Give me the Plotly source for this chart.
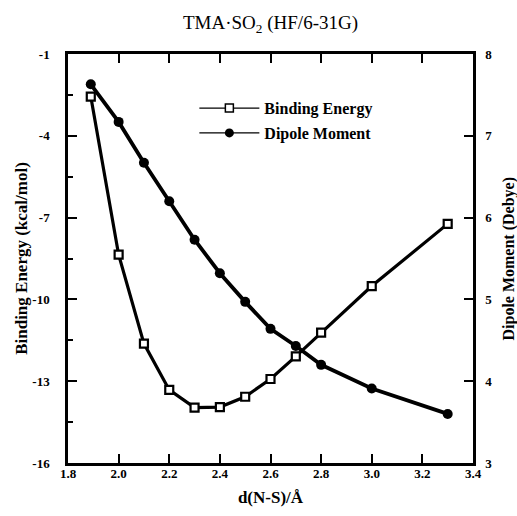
import plotly.graph_objects as go

# distance d(N-S) in Angstrom
d_ns = [1.89, 2.0, 2.1, 2.2, 2.3, 2.4, 2.5, 2.6, 2.7, 2.8, 3.0, 3.3]
# binding energy (kcal/mol)
binding_energy = [-2.56, -8.36, -11.62, -13.32, -13.97, -13.95, -13.57, -12.92, -12.09, -11.22, -9.51, -7.23]
# dipole moment (Debye)
dipole_moment = [7.63, 7.17, 6.67, 6.20, 5.73, 5.32, 4.97, 4.64, 4.43, 4.20, 3.91, 3.60]

x_ticks = [1.8, 2.0, 2.2, 2.4, 2.6, 2.8, 3.0, 3.2, 3.4]
x_ticktext = ["1.8", "2.0", "2.2", "2.4", "2.6", "2.8", "3.0", "3.2", "3.4"]
be_ticks = [-1, -4, -7, -10, -13, -16]
be_ticktext = ["-1", "-4", "-7", "-10", "-13", "-16"]
be_minor = [-2.5, -5.5, -8.5, -11.5, -14.5]
dm_ticks = [3, 4, 5, 6, 7, 8]
dm_ticktext = ["3", "4", "5", "6", "7", "8"]

FONT = "Liberation Serif"

fig = go.Figure()
fig.add_trace(go.Scatter(
    x=d_ns, y=binding_energy, mode="lines+markers", name="Binding Energy",
    line=dict(color="black", width=3.2),
    marker=dict(symbol="square", size=8, color="white", line=dict(color="black", width=2.2)),
    showlegend=False, yaxis="y"))
fig.add_trace(go.Scatter(
    x=d_ns, y=dipole_moment, mode="lines+markers", name="Dipole Moment",
    line=dict(color="black", width=3.8),
    marker=dict(symbol="circle", size=10, color="black"),
    showlegend=False, yaxis="y2"))
# legend entries (thin lines as in the original key)
fig.add_trace(go.Scatter(
    x=[None], y=[None], mode="lines+markers", name="Binding Energy",
    line=dict(color="black", width=1.2),
    marker=dict(symbol="square", size=8, color="white", line=dict(color="black", width=1.5)),
    legendgroup="a"))
fig.add_trace(go.Scatter(
    x=[None], y=[None], mode="lines+markers", name="Dipole Moment",
    line=dict(color="black", width=1.2),
    marker=dict(symbol="circle", size=9, color="black"),
    legendgroup="b"))

fig.update_layout(
    width=517, height=516,
    margin=dict(l=68, r=44, t=54, b=48),
    paper_bgcolor="white", plot_bgcolor="white",
    font=dict(family=FONT, color="black", size=13),
    title=dict(text="TMA·SO<sub>2</sub> (HF/6-31G)", x=0.5, xref="paper", xanchor="center",
               y=1 - 22 / 516, yref="container", yanchor="middle",
               font=dict(family=FONT, size=19, color="black")),
    legend=dict(x=0.312, y=0.909, xanchor="left", yanchor="top", bgcolor="rgba(0,0,0,0)",
                traceorder="grouped", tracegroupgap=1, itemwidth=60,
                font=dict(family=FONT, size=16, color="black", weight="bold")),
    xaxis=dict(range=[1.8, 3.4], tickmode="array", tickvals=x_ticks, ticktext=x_ticktext,
               ticks="inside", ticklen=9, tickwidth=2, tickcolor="black",
               showline=True, linewidth=2.5, linecolor="black", mirror="ticks",
               showgrid=False, zeroline=False, ticklabelstandoff=-3,
               tickfont=dict(family=FONT, size=13, weight="bold"),
               title=dict(text="d(N-S)/Å", standoff=11, font=dict(family=FONT, size=17, weight="bold"))),
    yaxis=dict(range=[-16, -1], tickmode="array", tickvals=be_ticks, ticktext=be_ticktext,
               ticks="inside", ticklen=9, tickwidth=2, tickcolor="black",
               minor=dict(tickmode="array", tickvals=be_minor, ticks="inside", ticklen=5, tickwidth=2, tickcolor="black"),
               showline=True, linewidth=2.5, linecolor="black", mirror=False,
               showgrid=False, zeroline=False, ticklabelstandoff=13,
               tickfont=dict(family=FONT, size=13, weight="bold"),
               title=dict(text="Binding Energy (kcal/mol)", standoff=1,
                          font=dict(family=FONT, size=17, weight="bold"))),
    yaxis2=dict(range=[3, 8], overlaying="y", side="right", tickmode="array",
                tickvals=dm_ticks, ticktext=dm_ticktext,
                ticks="inside", ticklen=9, tickwidth=2, tickcolor="black",
                showline=True, linewidth=2.5, linecolor="black",
                showgrid=False, zeroline=False, ticklabelstandoff=7,
                tickfont=dict(family=FONT, size=13, weight="bold")),
)
# right axis title placed as an annotation so it stays inside the page
fig.add_annotation(text="Dipole Moment (Debye)", xref="paper", yref="paper",
                   x=1 + 35 / 405, y=0.5, xanchor="center", yanchor="middle",
                   textangle=-90, showarrow=False,
                   font=dict(family=FONT, size=16, weight="bold", color="black"))

fig.write_html("out.html", config={"displayModeBar": False},
               post_script="document.body.style.margin='0';")
